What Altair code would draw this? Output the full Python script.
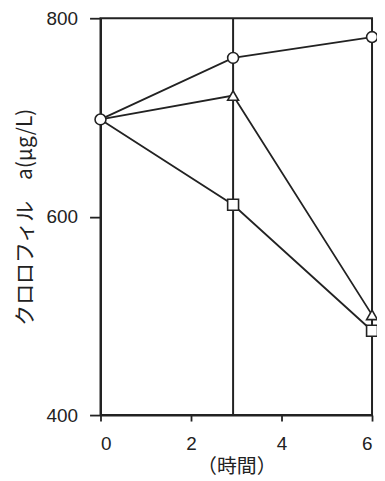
import altair as alt
import pandas as pd

hours = [0, 2.93, 6]
series_names = ["A", "B", "C"]
circle_vals = [698, 760, 781]
triangle_vals = [698, 722, 501]
square_vals = [698, 612, 485]
shapes = ["circle", "triangle-up", "square"]
x_ticks = [0, 2, 4, 6]
y_ticks = [400, 600, 800]
divider_x = [2.93]

rows = []
for name, vals in zip(series_names, [circle_vals, triangle_vals, square_vals]):
    for h, v in zip(hours, vals):
        rows.append({"series": name, "hour": h, "value": v,
                     "marker": (name == "A") or (h != 0)})
df = pd.DataFrame(rows)
rule_df = pd.DataFrame({"hour": divider_x})

ink = "#222222"
cjk = "Noto Sans CJK JP"

x = alt.X("hour:Q",
          scale=alt.Scale(domain=[0, 6], nice=False, zero=False),
          axis=alt.Axis(values=x_ticks, title="（時間）", grid=False,
                        tickSize=6, labelPadding=14, titlePadding=3, format="d",
                        titleFont=cjk, titleFontSize=20))
y = alt.Y("value:Q",
          scale=alt.Scale(domain=[400, 800], nice=False, zero=False),
          axis=alt.Axis(values=y_ticks, title="クロロフィル　a(μg/L)", grid=False,
                        tickSize=11, labelPadding=12, titlePadding=11,
                        titleFont=cjk, titleFontSize=21))

rule = alt.Chart(rule_df).mark_rule(color=ink, strokeWidth=2).encode(x=x)

lines = alt.Chart(df).mark_line(color=ink, strokeWidth=1.8).encode(
    x=x, y=y, detail="series:N")

points = alt.Chart(df).transform_filter("datum.marker").mark_point(
    filled=True, fill="white", stroke=ink, strokeWidth=1.6, size=120, opacity=1
).encode(
    x=x, y=y,
    shape=alt.Shape("series:N", scale=alt.Scale(domain=series_names, range=shapes), legend=None),
)

chart = alt.layer(rule, lines, points).properties(
    width=273, height=399,
    autosize=alt.AutoSizeParams(type="none"),
    padding={"left": 93, "top": 9, "right": 5, "bottom": 64},
    background="white",
).configure_view(stroke=ink, strokeWidth=2).configure_axis(
    domainColor=ink, domainWidth=2, tickColor=ink, tickWidth=1.8,
    labelFont="Liberation Sans", labelFontSize=19, labelColor=ink,
    titleFontWeight="normal", titleColor=ink,
)

chart.save("out.html", embed_options={"renderer": "svg", "actions": False})
